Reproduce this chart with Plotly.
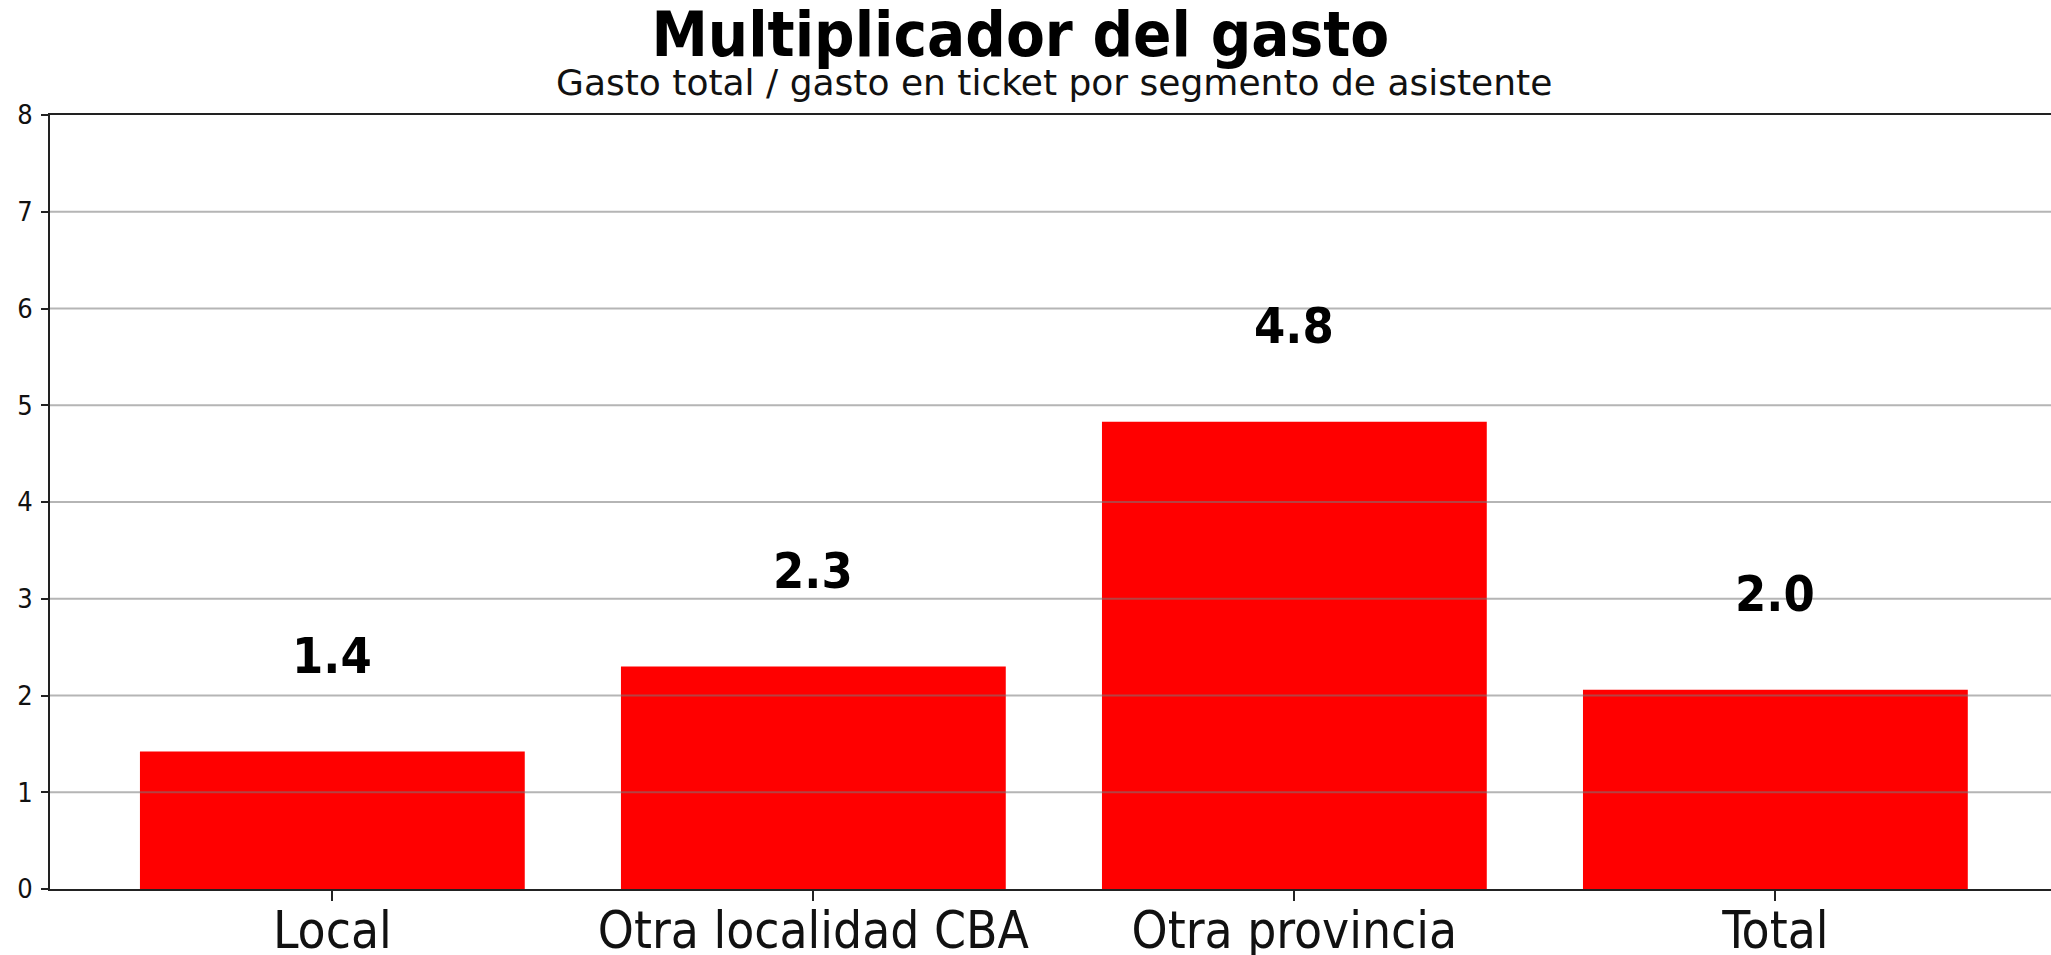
import plotly.graph_objects as go

categories = ["Local", "Otra localidad CBA", "Otra provincia", "Total"]
multiplier = [1.42, 2.30, 4.83, 2.06]
value_labels = ["1.4", "2.3", "4.8", "2.0"]
y_ticks = [0, 1, 2, 3, 4, 5, 6, 7, 8]

title_text = "Multiplicador del gasto"
subtitle_text = "Gasto total / gasto en ticket por segmento de asistente"

COND = "DejaVu Sans Condensed, DejaVu Sans, sans-serif"
REG = "DejaVu Sans, sans-serif"

fig = go.Figure()
fig.add_trace(go.Bar(
    x=list(range(len(categories))),
    y=multiplier,
    width=0.8,
    marker=dict(color="#ff0000", line=dict(width=0)),
    hoverinfo="skip",
))

# value labels above bars
for i, (v, lab) in enumerate(zip(multiplier, value_labels)):
    fig.add_annotation(
        x=i, y=v + 0.99, xref="x", yref="y", text=lab, showarrow=False,
        xanchor="center", yanchor="middle",
        font=dict(family=COND, size=50, color="black", weight="bold"),
    )

# grid lines drawn over the bars (as in the reference)
for t in y_ticks[1:-1]:
    fig.add_shape(
        type="line", xref="paper", yref="y", x0=0, x1=1, y0=t, y1=t,
        line=dict(color="rgba(120,120,120,0.55)", width=2), layer="above",
    )

fig.add_annotation(
    x=0.5017, y=1, xref="paper", yref="paper", text=subtitle_text,
    showarrow=False, xanchor="center", yanchor="bottom", yshift=10,
    font=dict(family=REG, size=36, color="#111111"),
)

fig.update_layout(
    width=2051, height=955,
    paper_bgcolor="white", plot_bgcolor="white",
    margin=dict(l=50, r=0, t=115, b=66, pad=0, autoexpand=False),
    showlegend=False,
    title=dict(
        text=title_text, x=0.4975, xref="container", xanchor="center",
        y=1 - 12 / 955, yref="container", yanchor="top",
        font=dict(family=COND, size=63, color="black", weight="bold"),
    ),
    xaxis=dict(
        range=[-0.587, 3.573], automargin=False,
        tickmode="array", tickvals=list(range(len(categories))), ticktext=categories,
        showgrid=False, zeroline=False,
        showline=True, linecolor="#222222", linewidth=2, mirror=True,
        ticks="outside", ticklen=10, tickwidth=1.5, tickcolor="#222222",
        ticklabelstandoff=-14,
        tickfont=dict(family=COND, size=51, color="#111111"),
    ),
    yaxis=dict(
        range=[0, 8], automargin=False,
        tickmode="array", tickvals=y_ticks,
        showgrid=False, zeroline=False,
        showline=True, linecolor="#222222", linewidth=2, mirror=False,
        ticks="outside", ticklen=7, tickwidth=1.5, tickcolor="#222222",
        ticklabelstandoff=3,
        tickfont=dict(family=COND, size=27, color="#111111"),
    ),
)

fig.write_html(
    "out.html",
    config={"displayModeBar": False},
    post_script="document.body.style.margin='0';document.body.style.overflow='hidden';",
)
